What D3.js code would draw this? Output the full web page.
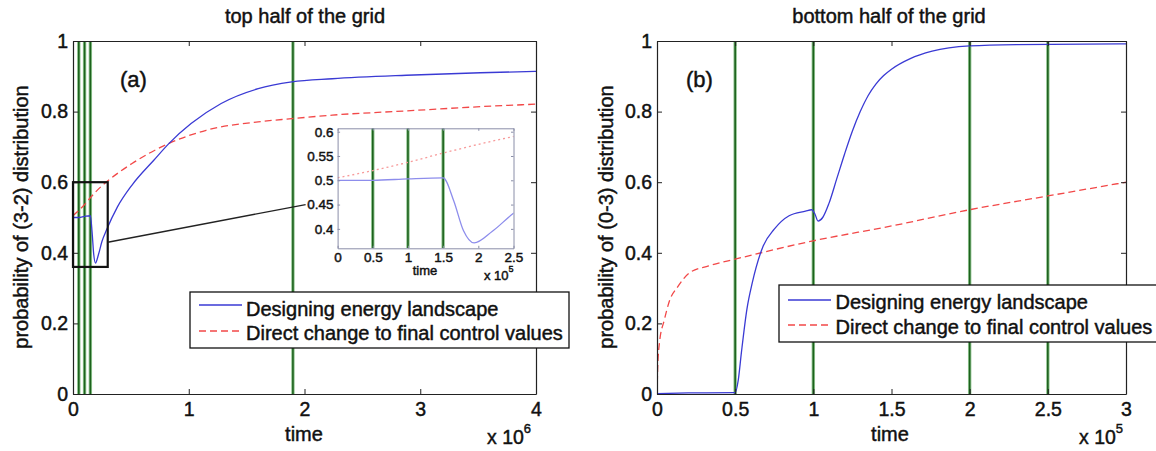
<!DOCTYPE html>
<html><head><meta charset="utf-8">
<script src="https://cdn.jsdelivr.net/npm/d3@7"></script>
<style>
body{margin:0;background:#fff}
svg{display:block}
text{font-family:"Liberation Sans",Arial,Helvetica,sans-serif;fill:#111}
</style>
</head><body>
<svg id="c" width="1156" height="451"></svg>
<script>
// ---------------- data ----------------
const seriesNames = ["Designing energy landscape", "Direct change to final control values"];
const panelTitles = ["top half of the grid", "bottom half of the grid"];
const panelTags = ["(a)", "(b)"];
const yLabels = ["probability of (3-2) distribution", "probability of (0-3) distribution"];
const xLabel = "time";

const yTickValues = [0, 0.2, 0.4, 0.6, 0.8, 1];
const yTickLabels = ["0", "0.2", "0.4", "0.6", "0.8", "1"];
const topXTickValues = [0, 1e6, 2e6, 3e6, 4e6];
const topXTickLabels = ["0", "1", "2", "3", "4"];
const bottomXTickValues = [0, 0.5e5, 1e5, 1.5e5, 2e5, 2.5e5, 3e5];
const bottomXTickLabels = ["0", "0.5", "1", "1.5", "2", "2.5", "3"];
const insetXTickValues = [0, 0.5e5, 1e5, 1.5e5, 2e5, 2.5e5];
const insetXTickLabels = ["0", "0.5", "1", "1.5", "2", "2.5"];
const insetYTickValues = [0.4, 0.45, 0.5, 0.55, 0.6];
const insetYTickLabels = ["0.4", "0.45", "0.5", "0.55", "0.6"];

const topSwitchTimes = [0.5e5, 1e5, 1.5e5, 1.9e6];
const bottomSwitchTimes = [0.5e5, 1e5, 2e5, 2.5e5];

// [time, probability]
const topDesigning = [
  [0, 0.500], [0.5e5, 0.500], [1e5, 0.503], [1.5e5, 0.505], [1.65e5, 0.458],
  [1.79e5, 0.396], [1.94e5, 0.371], [2.2e5, 0.395], [2.5e5, 0.432], [2.9e5, 0.465],
  [3.84e5, 0.530], [5.1e5, 0.592], [7e5, 0.663], [8.3e5, 0.710], [1.02e6, 0.766],
  [1.28e6, 0.823], [1.6e6, 0.865], [1.89e6, 0.884], [2.24e6, 0.893], [2.88e6, 0.903],
  [3.52e6, 0.910], [4e6, 0.914]
];
const topDirect = [
  [0, 0.505], [0.5e5, 0.520], [1e5, 0.537], [1.5e5, 0.556], [2.5e5, 0.590],
  [2.9e5, 0.601], [5.1e5, 0.653], [8.3e5, 0.710], [1.15e6, 0.747], [1.6e6, 0.771],
  [1.89e6, 0.780], [2.24e6, 0.790], [2.88e6, 0.802], [3.52e6, 0.814], [4e6, 0.821]
];
const bottomDesigning = [
  [0, 0.001], [0.2e5, 0.003], [0.5e5, 0.004], [0.52e5, 0.040], [0.54e5, 0.118],
  [0.575e5, 0.240], [0.61e5, 0.316], [0.68e5, 0.420], [0.75e5, 0.467], [0.845e5, 0.505],
  [0.95e5, 0.518], [0.99e5, 0.522], [1.01e5, 0.510], [1.03e5, 0.490], [1.06e5, 0.500],
  [1.1e5, 0.540], [1.15e5, 0.610], [1.2e5, 0.680], [1.25e5, 0.745], [1.3e5, 0.800],
  [1.35e5, 0.845], [1.4e5, 0.878], [1.45e5, 0.902], [1.5e5, 0.920], [1.62e5, 0.950],
  [1.76e5, 0.971], [2e5, 0.986], [2.3e5, 0.990], [3e5, 0.992]
];
const bottomDirect = [
  [0, 0], [0.005e5, 0.080], [0.016e5, 0.146], [0.047e5, 0.210], [0.08e5, 0.264],
  [0.13e5, 0.302], [0.21e5, 0.344], [0.33e5, 0.363], [0.5e5, 0.382], [1e5, 0.434],
  [1.5e5, 0.476], [2e5, 0.522], [2.5e5, 0.561], [3e5, 0.600]
];

// ---------------- drawing ----------------
const FONT = '"Liberation Sans",Arial,Helvetica,sans-serif';
const BLUE = "#3a3ad4", RED = "#f24848", GREEN_D = "#1d621d", GREEN_L = "#8fc48f";
const svg = d3.select("#c");

function styleAxis(g, fs) {
  g.attr("font-family", FONT).attr("font-size", fs);
  g.selectAll("path.domain").attr("stroke", "#222").attr("stroke-width", 1.2);
  g.selectAll(".tick line").attr("stroke", "#222");
  g.selectAll(".tick text").attr("fill", "#111");
}

function frameAxes(g, x, y, xt, xl, yt, yl, o) {
  const [xa, xb] = x.range(), [ya, yb] = y.range();
  const fx = d => xl[xt.indexOf(d)], fy = d => yl[yt.indexOf(d)];
  g.append("g").attr("transform", `translate(0,${ya})`)
    .call(d3.axisBottom(x).tickValues(xt).tickFormat(o.labels ? fx : "").tickSizeInner(-o.tick).tickSizeOuter(0).tickPadding(o.padX))
    .call(s => styleAxis(s, o.fs));
  g.append("g").attr("transform", `translate(${xa},0)`)
    .call(d3.axisLeft(y).tickValues(yt).tickFormat(o.labels ? fy : "").tickSizeInner(-o.tick).tickSizeOuter(0).tickPadding(o.padY))
    .call(s => styleAxis(s, o.fs));
  g.append("g").attr("transform", `translate(0,${yb})`)
    .call(d3.axisTop(x).tickValues(xt).tickFormat("").tickSizeInner(-o.tick).tickSizeOuter(0))
    .call(s => styleAxis(s, o.fs));
  g.append("g").attr("transform", `translate(${xb},0)`)
    .call(d3.axisRight(y).tickValues(yt).tickFormat("").tickSizeInner(-o.tick).tickSizeOuter(0))
    .call(s => styleAxis(s, o.fs));
}

function switchLines(g, x, y, times) {
  const [ya, yb] = y.range();
  g.selectAll(null).data(times).join("line")
    .attr("x1", d => x(d)).attr("x2", d => x(d)).attr("y1", ya).attr("y2", yb)
    .attr("stroke", GREEN_L).attr("stroke-width", 3.4);
  g.selectAll(null).data(times).join("line")
    .attr("x1", d => x(d)).attr("x2", d => x(d)).attr("y1", ya).attr("y2", yb)
    .attr("stroke", GREEN_D).attr("stroke-width", 1.6);
}

function curves(g, x, y, design, direct, st) {
  const line = d3.line().x(d => x(d[0])).y(d => y(d[1])).curve(d3.curveMonotoneX);
  g.append("path").datum(direct).attr("d", line).attr("fill", "none")
    .attr("stroke", st.red).attr("stroke-width", st.w).attr("stroke-dasharray", st.dash);
  g.append("path").datum(design).attr("d", line).attr("fill", "none")
    .attr("stroke", st.blue).attr("stroke-width", st.w);
}

function clip(id, x, y) {
  const [xa, xb] = x.range(), [ya, yb] = y.range();
  svg.append("clipPath").attr("id", id).append("rect")
    .attr("x", xa).attr("y", yb).attr("width", xb - xa).attr("height", ya - yb);
  return `url(#${id})`;
}

function legend(g, bx, by, bw, bh, rows) {
  g.append("rect").attr("x", bx).attr("y", by).attr("width", bw).attr("height", bh)
    .attr("fill", "#fff").attr("stroke", "#111").attr("stroke-width", 1.3);
  rows.forEach(r => {
    g.append("line").attr("x1", r.lx1).attr("x2", r.lx2).attr("y1", r.ly).attr("y2", r.ly)
      .attr("stroke", r.color).attr("stroke-width", 1.4).attr("stroke-dasharray", r.dash || null);
    g.append("text").attr("x", r.tx).attr("y", r.ty).attr("font-size", 20).text(r.name);
  });
}

function expLabel(g, x, y, exp, fs, sfs, rise) {
  const t = g.append("text").attr("x", x).attr("y", y).attr("font-size", fs);
  t.append("tspan").text("x 10");
  t.append("tspan").attr("font-size", sfs).attr("dy", -rise).text(exp);
}

// ---------- panel (a) ----------
{
  const x = d3.scaleLinear([0, 4e6], [73, 536]);
  const y = d3.scaleLinear([0, 1], [394, 41]);
  const g = svg.append("g");
  const cp = clip("clipA", x, y);
  const pg = g.append("g").attr("clip-path", cp);
  switchLines(pg, x, y, topSwitchTimes);
  curves(pg, x, y, topDesigning, topDirect, {blue: BLUE, red: RED, w: 1.3, dash: "7,4"});
  frameAxes(g, x, y, topXTickValues, topXTickLabels, yTickValues, yTickLabels,
    {tick: 5, padX: 8, padY: 5, fs: 19.5, labels: true});

  // zoom box & connector
  g.append("rect").attr("x", x(0)).attr("y", y(0.6)).attr("width", x(3e5) - x(0)).attr("height", y(0.36) - y(0.6))
    .attr("fill", "none").attr("stroke", "#111").attr("stroke-width", 2.2);

  // inset
  const ix = d3.scaleLinear([0, 2.5e5], [337.6, 513.5]);
  const iy = d3.scaleLinear([0.36, 0.607], [248.3, 128.3]);
  g.append("line").attr("x1", x(3e5)).attr("y1", y(0.43)).attr("x2", ix(0) - 32).attr("y2", iy(0.45))
    .attr("stroke", "#222").attr("stroke-width", 1.4);
  g.append("rect").attr("x", 337.6).attr("y", 128.3).attr("width", 513.5 - 337.6).attr("height", 248.3 - 128.3).attr("fill", "#fff");
  const icp = clip("clipI", ix, iy);
  const ig = g.append("g").attr("clip-path", icp);
  switchLines(ig, ix, iy, topSwitchTimes);
  curves(ig, ix, iy, topDesigning, topDirect, {blue: "#8d8dec", red: "#f79a9a", w: 1.3, dash: "2,3"});
  const ia = g.append("g");
  frameAxes(ia, ix, iy, insetXTickValues, insetXTickLabels, insetYTickValues, insetYTickLabels,
    {tick: 2.5, padX: 4, padY: 4, fs: 13.5, labels: true});
  ia.selectAll("path.domain").attr("stroke", "#8a8ea8").attr("stroke-width", 1);
  ia.selectAll(".tick line").attr("stroke", "#8a8ea8");
  g.append("text").attr("x", 425).attr("y", 275).attr("text-anchor", "middle").attr("font-size", 13).text(xLabel);
  expLabel(g, 484, 280, "5", 13, 9, 8);

  legend(g, 190, 292, 379, 56, [
    {lx1: 199, lx2: 242, ly: 305, tx: 246, ty: 315.5, color: BLUE, name: seriesNames[0]},
    {lx1: 199, lx2: 242, ly: 331, tx: 246, ty: 340, color: RED, dash: "7,4", name: seriesNames[1]}
  ]);

  g.append("text").attr("x", 305).attr("y", 23).attr("text-anchor", "middle").attr("font-size", 20).text(panelTitles[0]);
  g.append("text").attr("x", 304).attr("y", 441).attr("text-anchor", "middle").attr("font-size", 20).text(xLabel);
  g.append("text").attr("transform", "translate(28,217) rotate(-90)").attr("text-anchor", "middle").attr("font-size", 20).text(yLabels[0]);
  g.append("text").attr("x", 120).attr("y", 87).attr("font-size", 22).text(panelTags[0]);
  expLabel(g, 487, 444, "6", 19.5, 13, 11);
}

// ---------- panel (b) ----------
{
  const x = d3.scaleLinear([0, 3e5], [657, 1126]);
  const y = d3.scaleLinear([0, 1], [394, 41]);
  const g = svg.append("g");
  const cp = clip("clipB", x, y);
  const pg = g.append("g").attr("clip-path", cp);
  switchLines(pg, x, y, bottomSwitchTimes);
  curves(pg, x, y, bottomDesigning, bottomDirect, {blue: BLUE, red: RED, w: 1.3, dash: "7,4"});
  frameAxes(g, x, y, bottomXTickValues, bottomXTickLabels, yTickValues, yTickLabels,
    {tick: 5, padX: 8, padY: 5, fs: 19.5, labels: true});

  legend(g, 779, 285, 400, 57, [
    {lx1: 788, lx2: 831, ly: 300, tx: 835.5, ty: 308.5, color: BLUE, name: seriesNames[0]},
    {lx1: 788, lx2: 831, ly: 325, tx: 835.5, ty: 333.5, color: RED, dash: "7,4", name: seriesNames[1]}
  ]);

  g.append("text").attr("x", 889).attr("y", 23).attr("text-anchor", "middle").attr("font-size", 20).text(panelTitles[1]);
  g.append("text").attr("x", 890).attr("y", 441).attr("text-anchor", "middle").attr("font-size", 20).text(xLabel);
  g.append("text").attr("transform", "translate(613,217) rotate(-90)").attr("text-anchor", "middle").attr("font-size", 20).text(yLabels[1]);
  g.append("text").attr("x", 686).attr("y", 87).attr("font-size", 22).text(panelTags[1]);
  expLabel(g, 1079, 444, "5", 19.5, 13, 11);
}

// slightly heavier text weight, as in the reference
svg.selectAll("text").attr("stroke", "#111").attr("stroke-width", 0.45);
</script>
</body></html>
